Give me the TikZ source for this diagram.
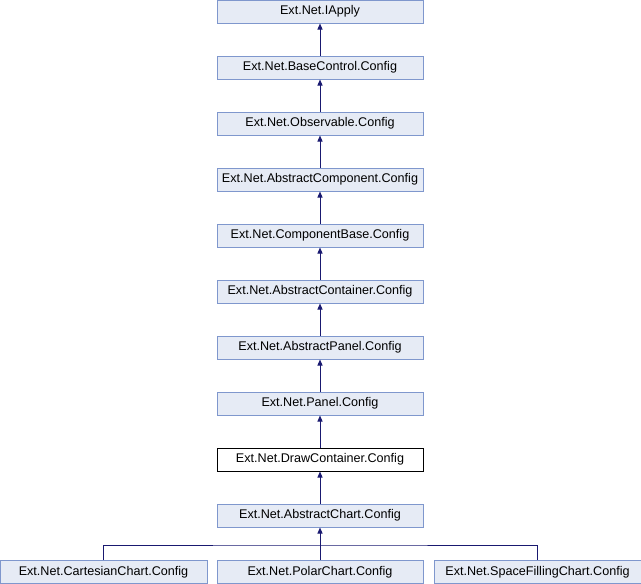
\documentclass[tikz,border=0pt]{standalone}
\usepackage{fontspec}
\setmainfont{Liberation Sans}
\usetikzlibrary{arrows.meta}
\definecolor{boxfill}{HTML}{E6EBF5}
\definecolor{boxline}{HTML}{7F97CD}
\definecolor{linkcol}{HTML}{191970}
\begin{document}
\begin{tikzpicture}[x=1pt,y=-1pt,
  cls/.style={draw=boxline,fill=boxfill,line width=1pt,minimum width=206pt,minimum height=23pt,inner sep=0pt,font=\fontsize{12.6}{14}\selectfont},
  current/.style={draw=black,fill=white,line width=1pt,minimum width=206pt,minimum height=23pt,inner sep=0pt,font=\fontsize{12.6}{14}\selectfont},
  inherit/.style={draw=linkcol,line width=1pt,-{Triangle[length=6pt,width=5pt]}}]
\useasboundingbox (0,0) rectangle (641,584);
% main chain of base classes
\node[cls] (iapply) at (320,11.5) {Ext.Net.IApply};
\node[cls] (basectl) at (320,67.5) {Ext.Net.BaseControl.Config};
\node[cls] (observ) at (320,123.5) {Ext.Net.Observable.Config};
\node[cls] (abscomp) at (320,179.5) {Ext.Net.AbstractComponent.Config};
\node[cls] (compbase) at (320,235.5) {Ext.Net.ComponentBase.Config};
\node[cls] (abscont) at (320,291.5) {Ext.Net.AbstractContainer.Config};
\node[cls] (abspanel) at (320,347.5) {Ext.Net.AbstractPanel.Config};
\node[cls] (panel) at (320,403.5) {Ext.Net.Panel.Config};
\node[current] (drawcont) at (320,459.5) {Ext.Net.DrawContainer.Config};
\node[cls] (abschart) at (320,515.5) {Ext.Net.AbstractChart.Config};
% derived classes
\node[cls, minimum width=207pt] (cart) at (103.5,572) {Ext.Net.CartesianChart.Config};
\node[cls] (polar) at (320,572) {Ext.Net.PolarChart.Config};
\node[cls, minimum width=207pt] (space) at (537.5,572) {Ext.Net.SpaceFillingChart.Config};
\coordinate (bus) at (320,545);
% inheritance links
\draw[inherit] (basectl) -- (iapply);
\draw[inherit] (observ) -- (basectl);
\draw[inherit] (abscomp) -- (observ);
\draw[inherit] (compbase) -- (abscomp);
\draw[inherit] (abscont) -- (compbase);
\draw[inherit] (abspanel) -- (abscont);
\draw[inherit] (panel) -- (abspanel);
\draw[inherit] (drawcont) -- (panel);
\draw[inherit] (abschart) -- (drawcont);
\draw[inherit] (polar) -- (abschart);
\draw[draw=linkcol,line width=1pt] (cart.north) |- (bus) -| (space.north);
\end{tikzpicture}
\end{document}
